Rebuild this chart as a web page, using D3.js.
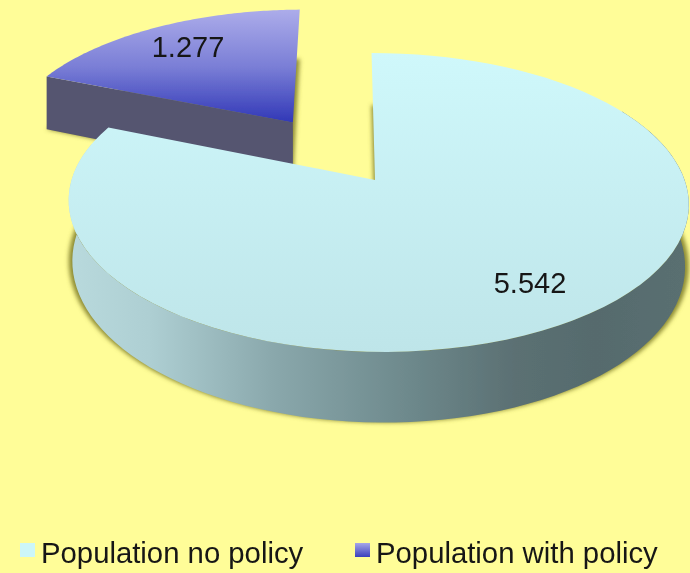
<!DOCTYPE html>
<html>
<head>
<meta charset="utf-8">
<script src="https://cdn.jsdelivr.net/npm/d3@7"></script>
<style>
    html, body { margin: 0; padding: 0; background: #fffd98; }
    svg { display: block; }
    text { font-family: "Liberation Sans", Arial, sans-serif; fill: #161616; }
</style>
</head>
<body>
<script>
const categories = ["Population no policy", "Population with policy"];
const values = [5.542, 1.277];
const valueLabels = ["5.542", "1.277"];

const width = 690, height = 573;

// tilted disc: unit circle -> screen, perspective divide in w
const view = { x0: 375, y0: 180, a: 306.5, b: 146, k: 0.1507, m: -0.01, skew: -4, depth: 60, lowScale: 0.988, midX: 375 };
const explode = 0.505;

// low: 0 = top face, 1 = bottom face, 2 = bottom face without shrink (for the shadow)
function project(u, v, low) {
    const w = 1 + view.k * v + view.m * u;
    let x = view.x0 + (view.a * u + view.skew * v) / w;
    if (low === 1) x = view.midX + (x - view.midX) * view.lowScale;
    return [x, view.y0 - view.b * v / w + (low ? view.depth / w : 0)];
}

const arcs = d3.pie().sort(null).startAngle(0).endAngle(2 * Math.PI)(values);

function offsetOf(d, amount) {
    const mid = (d.startAngle + d.endAngle) / 2;
    return [amount * Math.sin(mid), amount * Math.cos(mid)];
}

function rim(off, from, to, low) {
    const n = 90;
    return d3.range(n + 1).map(i => {
        const t = from + (to - from) * i / n;
        return project(off[0] + Math.sin(t), off[1] + Math.cos(t), low);
    });
}

const line = d3.line();

function wedgePath(d, off, low) {
    const tip = project(off[0], off[1], low);
    return line([tip, ...rim(off, d.startAngle, d.endAngle, low)]) + "Z";
}

const svg = d3.select("body").append("svg")
    .attr("width", width)
    .attr("height", height);

const defs = svg.append("defs");

function linear(id, x1, y1, x2, y2, stops) {
    const g = defs.append("linearGradient")
        .attr("id", id)
        .attr("gradientUnits", "userSpaceOnUse")
        .attr("x1", x1).attr("y1", y1).attr("x2", x2).attr("y2", y2);
    stops.forEach(s => g.append("stop").attr("offset", s[0]).attr("stop-color", s[1]));
}

linear("mainTop", 0, 53, 0, 352, [[0, "#cff8fb"], [1, "#bee5e9"]]);
linear("mainWall", 68, 0, 688, 0, [[0, "#b9dadd"], [0.13, "#aecfd3"], [0.33, "#8aa8ac"], [0.535, "#6f8b8e"], [0.72, "#5b7073"], [0.85, "#566b6d"], [1, "#5a6f71"]]);
linear("blueTop", 0, 10, 0, 124, [[0, "#acacea"], [0.5, "#7a7ed6"], [1, "#2f36b6"]]);
linear("swatchBlue", 0, 543, 0, 557, [[0, "#a6a6e8"], [1, "#3a40bc"]]);

function blurFilter(id, amount) {
    defs.append("filter").attr("id", id)
        .attr("x", "-10%").attr("y", "-10%").attr("width", "120%").attr("height", "120%")
        .append("feGaussianBlur").attr("stdDeviation", amount);
}
blurFilter("soft", 0.7);
blurFilter("shadow", 2);

const root = svg.append("g").attr("filter", "url(#soft)");

// slice with policy, pulled out, sits behind the big one
const blue = arcs[1];
const blueOff = offsetOf(blue, explode);
root.append("path")
    .attr("d", wedgePath(blue, blueOff, 2))
    .attr("fill", "#8e8c34")
    .attr("filter", "url(#shadow)");
const blueOuter = [blueOff[0] + Math.sin(blue.startAngle), blueOff[1] + Math.cos(blue.startAngle)];
root.append("path")
    .attr("d", line([
        project(blueOff[0], blueOff[1], 0),
        project(blueOuter[0], blueOuter[1], 0),
        project(blueOuter[0], blueOuter[1], 2),
        project(blueOff[0], blueOff[1], 2)
    ]) + "Z")
    .attr("fill", "#555570");
root.append("path")
    .attr("d", wedgePath(blue, blueOff, 0))
    .attr("fill", "url(#blueTop)");

// big slice
const main = arcs[0];
root.append("path")
    .attr("d", wedgePath(main, [0, 0], 2))
    .attr("fill", "#8e8c34")
    .attr("filter", "url(#shadow)");
const wallFrom = 60 * Math.PI / 180, wallTo = 285 * Math.PI / 180;
root.append("path")
    .attr("d", line([...rim([0, 0], wallFrom, wallTo, 0), ...rim([0, 0], wallFrom, wallTo, 1).reverse()]) + "Z")
    .attr("fill", "url(#mainWall)");
root.append("path")
    .attr("d", wedgePath(main, [0, 0], 0))
    .attr("fill", "url(#mainTop)");

// value labels
const labelAt = [[530, 293], [188, 57]];
root.selectAll("text.value")
    .data(valueLabels)
    .join("text")
    .attr("class", "value")
    .attr("x", (d, i) => labelAt[i][0])
    .attr("y", (d, i) => labelAt[i][1])
    .attr("text-anchor", "middle")
    .attr("font-size", 29)
    .text(d => d);

// legend
const legendX = [20, 355];
const legend = root.selectAll("g.legend")
    .data(categories)
    .join("g")
    .attr("class", "legend")
    .attr("transform", (d, i) => `translate(${legendX[i]},0)`);
legend.append("rect")
    .attr("y", 543).attr("width", 15).attr("height", 14)
    .attr("fill", (d, i) => i === 0 ? "#ccf6f9" : "url(#swatchBlue)");
legend.append("text")
    .attr("x", 21).attr("y", 563)
    .attr("font-size", 29.3)
    .text(d => d);
</script>
</body>
</html>
